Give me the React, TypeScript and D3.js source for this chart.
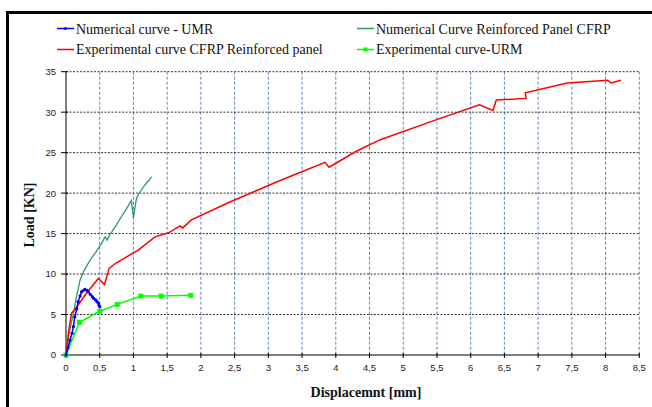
import React from "react";
import * as d3 from "d3";

const W = 652;
const H = 407;

// Numerical curve - UMR
const umrX = [0, 0.03, 0.06, 0.09, 0.11, 0.13, 0.16, 0.18, 0.21, 0.23, 0.26, 0.28, 0.31, 0.33, 0.36, 0.39, 0.41, 0.44, 0.46, 0.48, 0.49, 0.5];
const umrY = [0, 0.9, 1.85, 2.7, 3.5, 4.7, 5.7, 6.6, 7.3, 7.8, 8.0, 8.1, 8.0, 7.8, 7.5, 7.2, 7.0, 6.8, 6.6, 6.4, 6.1, 5.96];

// Numerical Curve Reinforced Panel CFRP
const numCfrpX = [0, 0.04, 0.08, 0.11, 0.16, 0.21, 0.26, 0.32, 0.38, 0.45, 0.52, 0.58, 0.61, 0.65, 0.68, 0.75, 0.8, 0.86, 0.92, 0.97, 1.0, 1.03, 1.05, 1.1, 1.16, 1.22, 1.27];
const numCfrpY = [0, 2.4, 4.0, 5.1, 7.4, 9.3, 10.3, 11.2, 12.0, 12.8, 13.7, 14.6, 14.2, 14.9, 15.2, 16.1, 16.8, 17.6, 18.4, 19.1, 16.9, 18.6, 19.5, 20.2, 20.9, 21.5, 22.0];

// Experimental curve CFRP Reinforced panel
const expCfrpX = [0, 0.04, 0.085, 0.13, 0.3, 0.48, 0.57, 0.64, 0.73, 1.07, 1.32, 1.52, 1.69, 1.73, 1.86, 2.43, 3.13, 3.84, 3.9, 4.31, 4.66, 5.4, 6.13, 6.33, 6.38, 6.82, 6.81, 7.43, 8.03, 8.08, 8.23];
const expCfrpY = [0, 3.0, 5.2, 5.6, 7.6, 9.46, 8.7, 10.7, 11.3, 12.96, 14.6, 15.1, 15.96, 15.7, 16.7, 18.9, 21.4, 23.8, 23.2, 25.2, 26.6, 28.8, 30.9, 30.2, 31.5, 31.7, 32.4, 33.6, 33.95, 33.6, 33.95];

// Experimental curve-URM
const urmX = [0, 0.2, 0.5, 0.76, 1.11, 1.41, 1.85];
const urmY = [0, 4.05, 5.4, 6.25, 7.28, 7.28, 7.37];

const xTicks = [0, 0.5, 1, 1.5, 2, 2.5, 3, 3.5, 4, 4.5, 5, 5.5, 6, 6.5, 7, 7.5, 8, 8.5];
const yTicks = [0, 5, 10, 15, 20, 25, 30, 35];

const legendLabels = [
  "Numerical curve - UMR",
  "Numerical Curve Reinforced Panel CFRP",
  "Experimental curve CFRP Reinforced panel",
  "Experimental curve-URM",
];

const C_BLUE = "#0000ff";
const C_SEA = "#339966";
const C_RED = "#ff0000";
const C_LIME = "#00ff00";

const fmt = (v: number) => String(v).replace(".", ",");

const SANS = "Arial";
const SERIF = "Tinos";

export default function App() {
  const x = d3.scaleLinear().domain([0, 8.5]).range([66, 639.3]);
  const y = d3.scaleLinear().domain([0, 35]).range([355, 71.7]);
  const line = d3
    .line<[number, number]>()
    .x((d) => x(d[0]))
    .y((d) => y(d[1]));
  const pts = (xs: number[], ys: number[]) => xs.map((v, i) => [v, ys[i]] as [number, number]);

  const umr = pts(umrX, umrY);
  const numC = pts(numCfrpX, numCfrpY);
  const expC = pts(expCfrpX, expCfrpY);
  const urm = pts(urmX, urmY);

  const legend = [
    { lx: 57, ly: 28.5, tx: 76, ty: 33.5, color: C_BLUE, label: legendLabels[0], marker: "dot" },
    { lx: 357, ly: 28.5, tx: 376, ty: 33.5, color: C_SEA, label: legendLabels[1], marker: "none" },
    { lx: 57, ly: 49.5, tx: 76, ty: 54, color: C_RED, label: legendLabels[2], marker: "none" },
    { lx: 357, ly: 49.5, tx: 376, ty: 54, color: C_LIME, label: legendLabels[3], marker: "square" },
  ];

  return (
    <svg width={W} height={H} style={{ position: "absolute", left: 0, top: 0, background: "#fff" }}>
      <rect x={0} y={0} width={W} height={H} fill="#fff" />
      <rect x={7.5} y={12.5} width={W + 20} height={H + 20} fill="none" stroke="#000" strokeWidth={3} />

      {/* vertical grid */}
      {xTicks.slice(1).map((t) => (
        <line key={"vx" + t} x1={x(t)} x2={x(t)} y1={y(35)} y2={y(0)} stroke="#5b86c0" strokeWidth={1} strokeDasharray="3,2" />
      ))}
      {/* horizontal grid */}
      {yTicks.slice(1).map((t) => (
        <line key={"hy" + t} x1={x(0)} x2={x(8.5)} y1={y(t)} y2={y(t)} stroke="#333" strokeWidth={1} strokeDasharray="2,1.5" />
      ))}

      {/* axes */}
      <line x1={x(0)} x2={x(0)} y1={y(35)} y2={y(0)} stroke="#000" strokeWidth={1} />
      <line x1={x(0)} x2={x(8.5)} y1={y(0)} y2={y(0)} stroke="#000" strokeWidth={1} />
      {yTicks.map((t) => (
        <g key={"yt" + t}>
          <line x1={x(0) - 5} x2={x(0) + 2} y1={y(t)} y2={y(t)} stroke="#000" />
          <text x={56} y={y(t) + 3.4} textAnchor="end" fontFamily={SANS} fontSize={9.5} fill="#222">
            {t}
          </text>
        </g>
      ))}
      {xTicks.map((t) => (
        <g key={"xt" + t}>
          <line x1={x(t)} x2={x(t)} y1={y(0) - 2} y2={y(0) + 3} stroke="#000" />
          <text x={x(t)} y={370.5} textAnchor="middle" fontFamily={SANS} fontSize={9.5} fill="#222">
            {fmt(t)}
          </text>
        </g>
      ))}

      <text x={366} y={397} textAnchor="middle" fontFamily={SERIF} fontWeight="bold" fontSize={14} fill="#111">
        Displacemnt [mm]
      </text>
      <text transform="translate(34,215) rotate(-90)" textAnchor="middle" fontFamily={SERIF} fontWeight="bold" fontSize={14} fill="#111">
        Load [KN]
      </text>

      {/* series */}
      <path d={line(numC) || ""} fill="none" stroke={C_SEA} strokeWidth={1.3} />
      <path d={line(expC) || ""} fill="none" stroke={C_RED} strokeWidth={1.5} />
      <path d={line(urm) || ""} fill="none" stroke={C_LIME} strokeWidth={1.5} />
      {urm.map((d, i) => (
        <rect key={"um" + i} x={x(d[0]) - 2.5} y={y(d[1]) - 2.5} width={5} height={5} fill={C_LIME} />
      ))}
      <path d={line(umr) || ""} fill="none" stroke={C_BLUE} strokeWidth={1.5} />
      {umr.map((d, i) => (
        <circle key={"bm" + i} cx={x(d[0])} cy={y(d[1])} r={1.6} fill={C_BLUE} />
      ))}

      {/* legend */}
      {legend.map((l) => (
        <g key={l.label}>
          <line x1={l.lx} x2={l.lx + 17} y1={l.ly} y2={l.ly} stroke={l.color} strokeWidth={1.5} />
          {l.marker === "dot" && <circle cx={l.lx + 8.5} cy={l.ly} r={1.5} fill={l.color} />}
          {l.marker === "square" && <rect x={l.lx + 6.5} y={l.ly - 2} width={4} height={4} fill={l.color} />}
          <text x={l.tx} y={l.ty} fontFamily={SERIF} fontSize={14} fill="#111">
            {l.label}
          </text>
        </g>
      ))}
    </svg>
  );
}
